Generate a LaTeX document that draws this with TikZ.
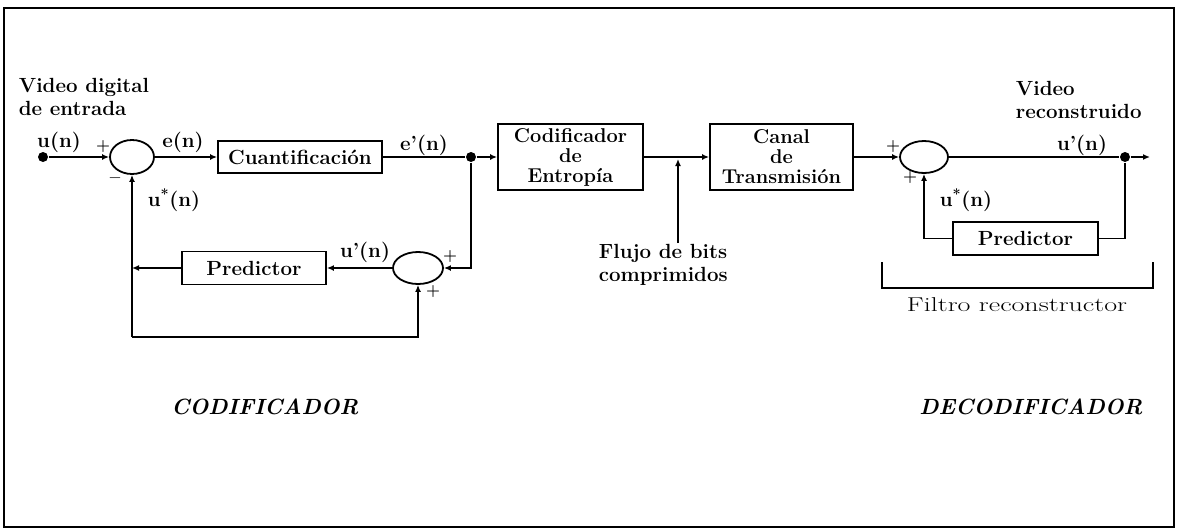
\documentclass[tikz,border=0pt]{standalone}
\usetikzlibrary{shapes.geometric,arrows.meta}
\begin{document}
\begin{tikzpicture}[x=1pt,y=-1pt, line width=1.8pt,
  every node/.style={font=\fontsize{20.5}{23}\selectfont\bfseries, inner sep=0pt},
  blk/.style={draw, rectangle, align=center, line width=1.8pt},
  tall/.style={font=\fontsize{20}{20}\selectfont\bfseries},
  sumc/.style={draw, ellipse, line width=1.8pt},
  arr/.style={-{Latex[length=7pt,width=6pt]}},
  jdot/.style={circle, fill, minimum size=10pt, inner sep=0pt},
  sgn/.style={font=\fontsize{16}{16}\selectfont\bfseries},
  lbl/.style={font=\fontsize{20.5}{23}\selectfont\bfseries},
  ttl/.style={font=\fontsize{22}{24}\selectfont\bfseries\itshape},
  ]
\useasboundingbox (0,0) rectangle (1178,530);
\draw[line width=2.2pt] (4,8) rectangle (1174,527);

% ---------- encoder ----------
\node[jdot] (in) at (43,157) {};
\node[sumc, minimum width=44pt, minimum height=34pt] (s1) at (132,157) {};
\node[blk, minimum width=164pt, minimum height=32pt] (cuant) at (300,157) {Cuantificación};
\node[jdot] (j1) at (471,157) {};
\node[blk, tall, minimum width=145pt, minimum height=66pt] (cod) at (570.5,157) {Codificador\\de\\Entropía};
\node[sumc, minimum width=50pt, minimum height=32pt] (s2) at (418,268) {};
\node[blk, minimum width=144pt, minimum height=33pt] (pred1) at (254,268) {Predictor};
\coordinate (lb) at (132,337);

\draw[arr] (in) -- (s1.west);
\draw[arr] (s1.east) -- (cuant.west);
\draw (cuant.east) -- (j1);
\draw[arr] (j1) -- (cod.west);
\draw[arr] (j1) |- (s2.east);
\draw[arr] (s2.west) -- (pred1.east);
\draw[arr] (pred1.west) -- (lb |- pred1.west);
\draw[arr] (lb) -- (s1.south);
\draw[arr] (lb) -| (s2.south);

\node[lbl, align=left, anchor=west] (vin) at (18,97) {Video digital\\de entrada};
\node[lbl] (lun) at (59,142) {u(n)};
\node[sgn] (p1) at (103,147) {+};
\node[sgn] (m1) at (115,178) {$-$};
\node[lbl] (len) at (183,142) {e(n)};
\node[lbl] (lus1) at (174,200) {u\textsuperscript{*}(n)};
\node[lbl] (lep) at (424,145) {e'(n)};
\node[lbl] (lup1) at (365,252) {u'(n)};
\node[sgn] (p2) at (450,257) {+};
\node[sgn] (p3) at (433,292) {+};

% ---------- channel ----------
\node[blk, tall, minimum width=143pt, minimum height=66pt] (canal) at (781.5,157) {Canal\\de\\Transmisión};
\draw[arr] (cod.east) -- (canal.west);
\coordinate (bsrc) at (678,243);
\draw[arr, shorten >=2pt] (bsrc) -- (bsrc |- cod.east);
\node[lbl, align=left, anchor=west] (flujo) at (598,264.5) {Flujo de bits\\comprimidos};

% ---------- decoder ----------
\node[sumc, minimum width=48pt, minimum height=32pt] (s3) at (924,157) {};
\node[jdot] (j2) at (1125,157) {};
\coordinate (out) at (1150,157);
\node[blk, minimum width=145pt, minimum height=33pt] (pred2) at (1025.5,238.5) {Predictor};
\draw[arr] (canal.east) -- (s3.west);
\draw (s3.east) -- (j2);
\draw[arr] (j2) -- (out);
\draw (j2) |- (pred2.east);
\draw[arr] (pred2.west) -| (s3.south);

\node[sgn] (p4) at (893,147) {+};
\node[sgn] (p5) at (910,178) {+};
\node[lbl] (lup2) at (1082,145) {u'(n)};
\node[lbl] (lus2) at (966,200) {u\textsuperscript{*}(n)};
\node[lbl, align=left, anchor=west] (vout) at (1015,99.5) {Video\\reconstruido};

\coordinate (bl) at (882,262);
\coordinate (br) at (1153,262);
\draw (bl) -- (bl |- 0,288) -- (br |- 0,288) -- (br);
\node[font=\fontsize{20}{22}\selectfont] (filt) at (1017,305) {\scalebox{1.4}[1]{Filtro reconstructor}};

\node[ttl] (tcod) at (265,407) {CODIFICADOR};
\node[ttl] (tdec) at (1031,407) {DECODIFICADOR};
\end{tikzpicture}
\end{document}
